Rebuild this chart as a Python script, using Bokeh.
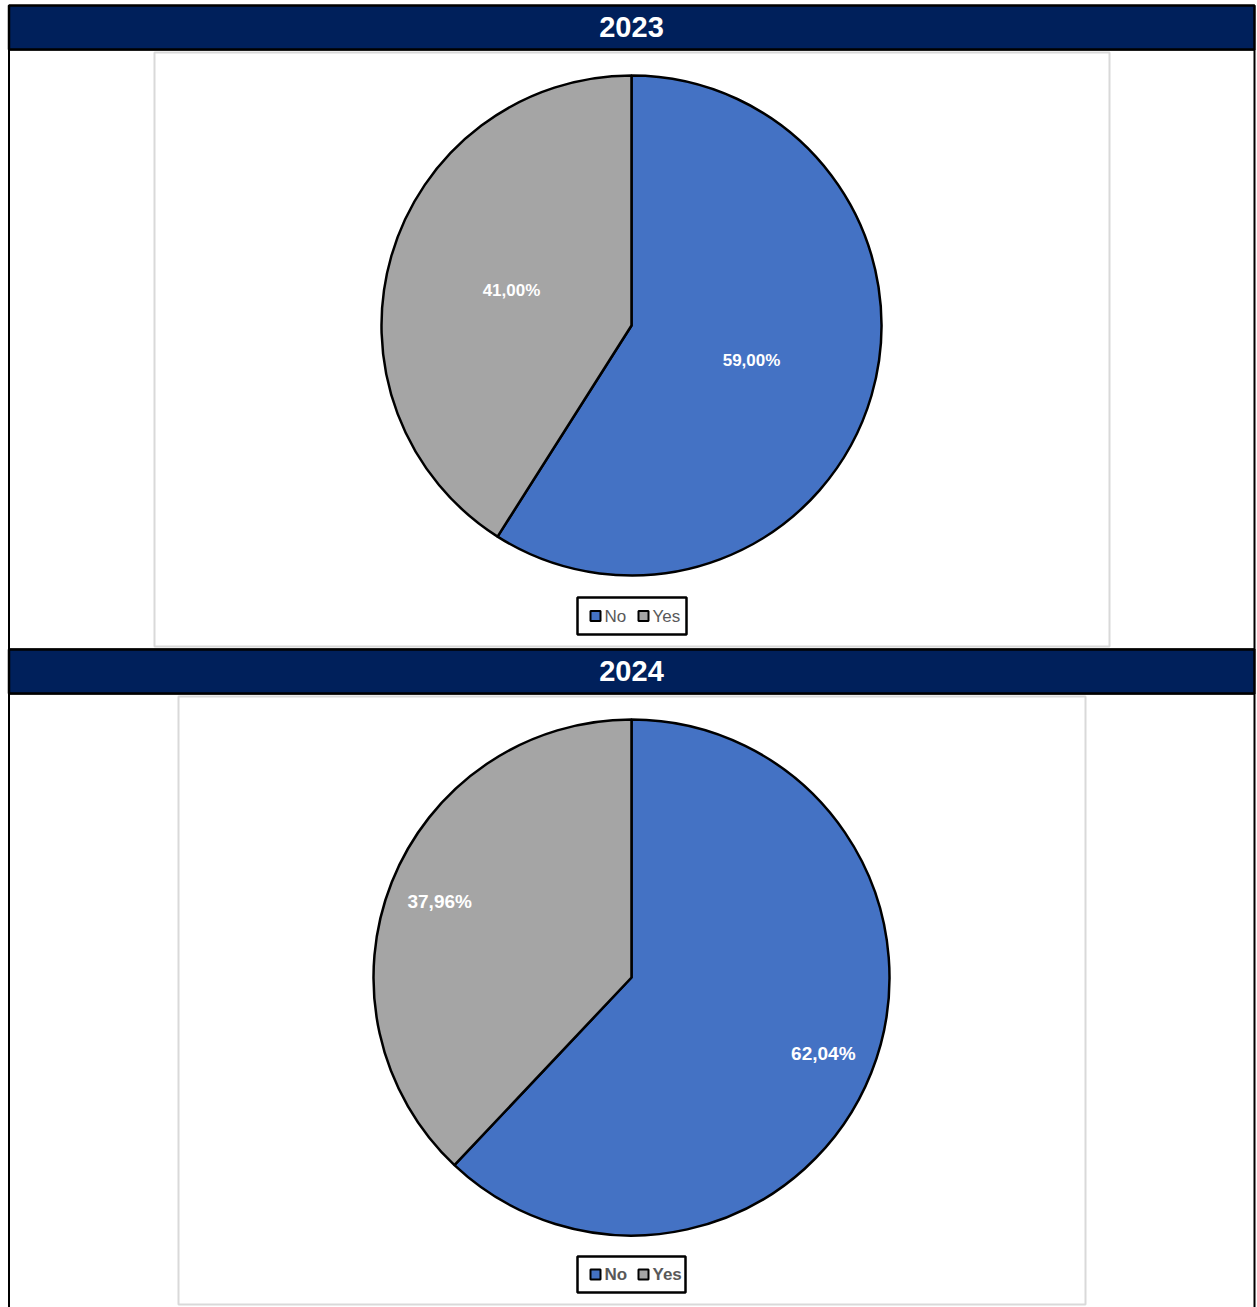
import math
from bokeh.plotting import figure
from bokeh.models import Range1d, ColumnDataSource
from bokeh.core.properties import value
from bokeh.embed import file_html
from bokeh.resources import INLINE

# ---- data ----
years = ["2023", "2024"]
categories = ["No", "Yes"]
shares_2023 = [59.00, 41.00]
shares_2024 = [62.04, 37.96]
label_texts_2023 = ["59,00%", "41,00%"]
label_texts_2024 = ["62,04%", "37,96%"]
colors = ["#4472C4", "#A5A5A5"]

W, H = 1257, 1307
p = figure(width=W, height=H, x_range=Range1d(0, W), y_range=Range1d(0, H),
           output_backend="svg", toolbar_location=None, min_border=0,
           x_axis_type=None, y_axis_type=None)
p.grid.visible = False
p.outline_line_color = None
p.background_fill_color = "white"
p.border_fill_color = "white"

def Y(y):
    return H - y

FONT = value("Liberation Sans")

panels = [
    dict(year=years[0], shares=shares_2023, labels=label_texts_2023,
         head=(5, 49), body=(49, 649), box=(154, 1109, 52, 646),
         cx=631, cy=325, r=250, lab_frac=0.5, lab_size="17px",
         legend=(577, 686, 597, 634), leg_bold="normal"),
    dict(year=years[1], shares=shares_2024, labels=label_texts_2024,
         head=(649, 693), body=(693, 1310), box=(178, 1085, 696, 1304),
         cx=631, cy=977, r=258, lab_frac=0.8, lab_size="19px",
         legend=(577, 685, 1256, 1292), leg_bold="bold"),
]

for pn in panels:
    # body frame
    b0, b1 = pn["body"]
    p.quad(left=[8.5], right=[1254], top=[Y(b0)], bottom=[Y(b1)],
           fill_color="white", line_color="black", line_width=2)
    # header
    h0, h1 = pn["head"]
    p.quad(left=[8.5], right=[1254], top=[Y(h0)], bottom=[Y(h1)],
           fill_color="#00205B", line_color="black", line_width=2.5)
    p.text(x=[631], y=[Y((h0 + h1) / 2 - 1)], text=[pn["year"]],
           text_color="white", text_font=FONT, text_font_size="29px",
           text_font_style="bold", text_align="center", text_baseline="middle")
    # inner chart box
    l, r_, t, bt = pn["box"]
    p.quad(left=[l], right=[r_], top=[Y(t)], bottom=[Y(bt)],
           fill_color="white", line_color="#D9D9D9", line_width=2)
    # pie
    total = sum(pn["shares"])
    starts, ends, lx, ly = [], [], [], []
    cum = 0.0
    for s in pn["shares"]:
        a0 = math.pi / 2 - 2 * math.pi * cum / total
        a1 = math.pi / 2 - 2 * math.pi * (cum + s) / total
        mid = (a0 + a1) / 2
        starts.append(a0)
        ends.append(a1)
        lx.append(pn["cx"] + pn["r"] * pn["lab_frac"] * math.cos(mid))
        ly.append(Y(pn["cy"]) + pn["r"] * pn["lab_frac"] * math.sin(mid))
        cum += s
    src = ColumnDataSource(dict(start=starts, end=ends, color=colors,
                                cat=categories, lx=lx, ly=ly, lab=pn["labels"]))
    p.wedge(x=pn["cx"], y=Y(pn["cy"]), radius=pn["r"], start_angle="start",
            end_angle="end", direction="clock", fill_color="color",
            line_color="black", line_width=2.5, source=src)
    p.text(x="lx", y="ly", text="lab", source=src, text_color="white",
           text_font=FONT, text_font_size=pn["lab_size"], text_font_style="bold",
           text_align="center", text_baseline="middle")
    # legend
    ll, lr, lt, lb = pn["legend"]
    p.quad(left=[ll], right=[lr], top=[Y(lt)], bottom=[Y(lb)],
           fill_color="white", line_color="black", line_width=2.5)
    ymid = Y((lt + lb) / 2)
    sq_x = [ll + 18, ll + 66]
    p.rect(x=sq_x, y=[ymid, ymid], width=10, height=10, fill_color=colors,
           line_color="black", line_width=2)
    p.text(x=[sx + 9 for sx in sq_x], y=[ymid, ymid], text=categories,
           text_color="#595959", text_font=FONT, text_font_size="17px",
           text_font_style=pn["leg_bold"], text_align="left", text_baseline="middle")

open("out.html", "w").write(file_html(p, INLINE))
